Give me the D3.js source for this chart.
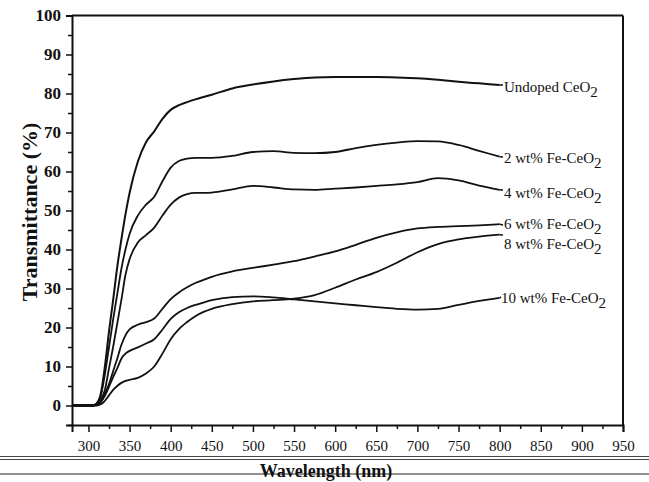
<!DOCTYPE html>
<html>
<head>
<meta charset="utf-8">
<script src="https://cdn.jsdelivr.net/npm/d3@7/dist/d3.min.js"></script>
<style>
  html, body { margin: 0; padding: 0; background: #fff; }
  svg { display: block; }
  text { font-family: "Liberation Serif", "Times New Roman", serif; fill: #111; }
</style>
</head>
<body>
<svg id="chart" width="649" height="482"></svg>
<script>
// Wavelength grid (nm) shared by all samples
const wavelengths = [280, 300, 305, 310, 315, 320, 325, 330, 335, 340, 345, 350, 360, 370, 380, 390, 400,
  410, 420, 430, 440, 450, 475, 500, 525, 550, 575, 600, 625, 650, 675, 700, 725, 750, 775, 800];

// Transmittance (%) of each sample on the grid above
const undoped = [0, 0, 0, 0.5, 3, 10, 19, 27, 35.5, 42.5, 49, 54.5, 62.5, 67.5, 70.3, 73.5, 75.8,
  77, 77.8, 78.5, 79.1, 79.7, 81.3, 82.3, 83.1, 83.7, 84.1, 84.2, 84.2, 84.2, 84.1, 83.9, 83.5, 83, 82.6, 82.2];
const fe2 = [0, 0, 0, 0.5, 2.5, 8, 15, 22, 28.5, 35, 40, 44, 48.7, 51.5, 53.5, 57.5, 61,
  62.7, 63.3, 63.5, 63.5, 63.5, 64, 65, 65.2, 64.8, 64.7, 65, 66, 66.8, 67.4, 67.8, 67.7, 66.8, 65.3, 63.8];
const fe4 = [0, 0, 0, 0.3, 1.5, 4, 9.5, 15, 21, 27, 33.5, 37.5, 41.8, 43.7, 45.6, 48.7, 51.5,
  53.3, 54.2, 54.5, 54.5, 54.6, 55.4, 56.3, 55.9, 55.4, 55.3, 55.6, 55.9, 56.3, 56.7, 57.3, 58.3, 57.7, 56.4, 55.3];
const fe6 = [0, 0, 0, 0.2, 0.8, 3, 5.5, 8.8, 12, 15.5, 18, 19.5, 20.7, 21.4, 22.3, 24.8, 27.3,
  29, 30.3, 31.4, 32.2, 33, 34.4, 35.3, 36.1, 37, 38.2, 39.5, 41.2, 43, 44.4, 45.4, 45.8, 46, 46.2, 46.5];
const fe8 = [0, 0, 0, 0, 0.3, 1.2, 2.6, 4, 5, 5.8, 6.3, 6.6, 7.1, 8.2, 10, 13.3, 17,
  19.6, 21.4, 22.9, 24, 24.8, 26, 26.7, 27, 27.4, 28.3, 30.2, 32.3, 34.2, 36.6, 39.3, 41.4, 42.6, 43.3, 43.8];
const fe10 = [0, 0, 0, 0.2, 1, 2.5, 4.8, 7.3, 9.5, 12, 13.3, 14, 14.9, 15.9, 17, 19.5, 22.2,
  23.9, 25, 25.8, 26.4, 27, 27.8, 28, 27.7, 27.2, 26.7, 26.2, 25.7, 25.2, 24.8, 24.6, 24.8, 25.8, 26.8, 27.6];

const seriesValues = [undoped, fe2, fe4, fe6, fe8, fe10];
const seriesNames = ["Undoped CeO", "2 wt% Fe-CeO", "4 wt% Fe-CeO", "6 wt% Fe-CeO", "8 wt% Fe-CeO", "10 wt% Fe-CeO"];

// Axis ticks
const xTicks = [300, 350, 400, 450, 500, 550, 600, 650, 700, 750, 800, 850, 900, 950];
const yTicks = [0, 10, 20, 30, 40, 50, 60, 70, 80, 90, 100];

const svg = d3.select("#chart");
const plotLeft = 72, plotRight = 623, plotTop = 15.5, plotBottom = 425;

const x = d3.scaleLinear().domain([280, 950]).range([plotLeft, plotRight]);
const y = d3.scaleLinear().domain([-5, 100]).range([plotBottom, plotTop]);

// Frame (top and right edges)
svg.append("line").attr("x1", plotLeft).attr("x2", plotRight).attr("y1", plotTop).attr("y2", plotTop)
  .attr("stroke", "#111").attr("stroke-width", 2);
svg.append("line").attr("x1", plotRight).attr("x2", plotRight).attr("y1", plotTop).attr("y2", plotBottom)
  .attr("stroke", "#111").attr("stroke-width", 2);

// X axis: major ticks every 50 nm, minor every 25 nm
const xAxis = svg.append("g").attr("transform", `translate(0,${plotBottom})`)
  .call(d3.axisBottom(x).tickValues(xTicks).tickSize(7).tickPadding(8).tickFormat(d3.format("d")));
svg.append("g").attr("transform", `translate(0,${plotBottom})`)
  .call(d3.axisBottom(x).tickValues(d3.range(325, 950, 50)).tickSize(4).tickFormat(""))
  .call(g => g.select(".domain").remove());
xAxis.selectAll("text").style("font-size", "15px").attr("font-family", null).attr("fill", "#111");

// Y axis: major ticks every 10 %, minor every 5 %
const yAxis = svg.append("g").attr("transform", `translate(${plotLeft},0)`)
  .call(d3.axisLeft(y).tickValues(yTicks).tickSize(6).tickPadding(5));
svg.append("g").attr("transform", `translate(${plotLeft},0)`)
  .call(d3.axisLeft(y).tickValues(d3.range(-5, 100, 10)).tickSize(4).tickFormat(""))
  .call(g => g.select(".domain").remove());
yAxis.selectAll("text").style("font-size", "17px").style("font-weight", "bold").attr("font-family", null).attr("fill", "#111");

svg.selectAll(".domain").attr("stroke", "#111").attr("stroke-width", 2);
svg.selectAll(".tick line").attr("stroke", "#111").attr("stroke-width", 1.5);

// Spectra
const line = d3.line()
  .x((d, i) => x(wavelengths[i]))
  .y(d => y(d))
  .curve(d3.curveMonotoneX);

svg.append("g").selectAll("path").data(seriesValues).join("path")
  .attr("d", line)
  .attr("fill", "none")
  .attr("stroke", "#111")
  .attr("stroke-width", (d, i) => i === 0 ? 2 : 1.8)
  .attr("stroke-linejoin", "round");

// Sample labels at the right end of each curve
const labelBaselines = [92, 163, 198, 229, 249, 303];
const leaderEnds = [85, 157, 190, 225, 235, 297];
const labels = svg.append("g").selectAll("text").data(seriesNames).join("text")
  .attr("x", (d, i) => i === 5 ? 501 : 504)
  .attr("y", (d, i) => labelBaselines[i])
  .style("font-size", "15px");
labels.append("tspan").text(d => d);
labels.append("tspan").attr("dy", 5).text("2");

// Short leaders from curve end to label
svg.append("g").selectAll("line").data(seriesValues).join("line")
  .attr("x1", x(800)).attr("y1", d => y(d[d.length - 1]))
  .attr("x2", (d, i) => i === 5 ? 501 : 503).attr("y2", (d, i) => leaderEnds[i])
  .attr("stroke", "#111").attr("stroke-width", 1.5);

// Axis titles
svg.append("text")
  .attr("transform", "translate(37,212) rotate(-90)")
  .attr("text-anchor", "middle")
  .style("font-size", "22px").style("font-weight", "bold")
  .text("Transmittance (%)");

// Rules under the tick labels
svg.append("line").attr("x1", 0).attr("x2", 649).attr("y1", 456.5).attr("y2", 456.5)
  .attr("stroke", "#444").attr("stroke-width", 1);
svg.append("line").attr("x1", 0).attr("x2", 649).attr("y1", 459.5).attr("y2", 459.5)
  .attr("stroke", "#444").attr("stroke-width", 1);
svg.append("line").attr("x1", 0).attr("x2", 649).attr("y1", 474).attr("y2", 474)
  .attr("stroke", "#222").attr("stroke-width", 1);

svg.append("text")
  .attr("x", 326).attr("y", 477)
  .attr("text-anchor", "middle")
  .style("font-size", "18px").style("font-weight", "bold")
  .text("Wavelength (nm)");
</script>
</body>
</html>
